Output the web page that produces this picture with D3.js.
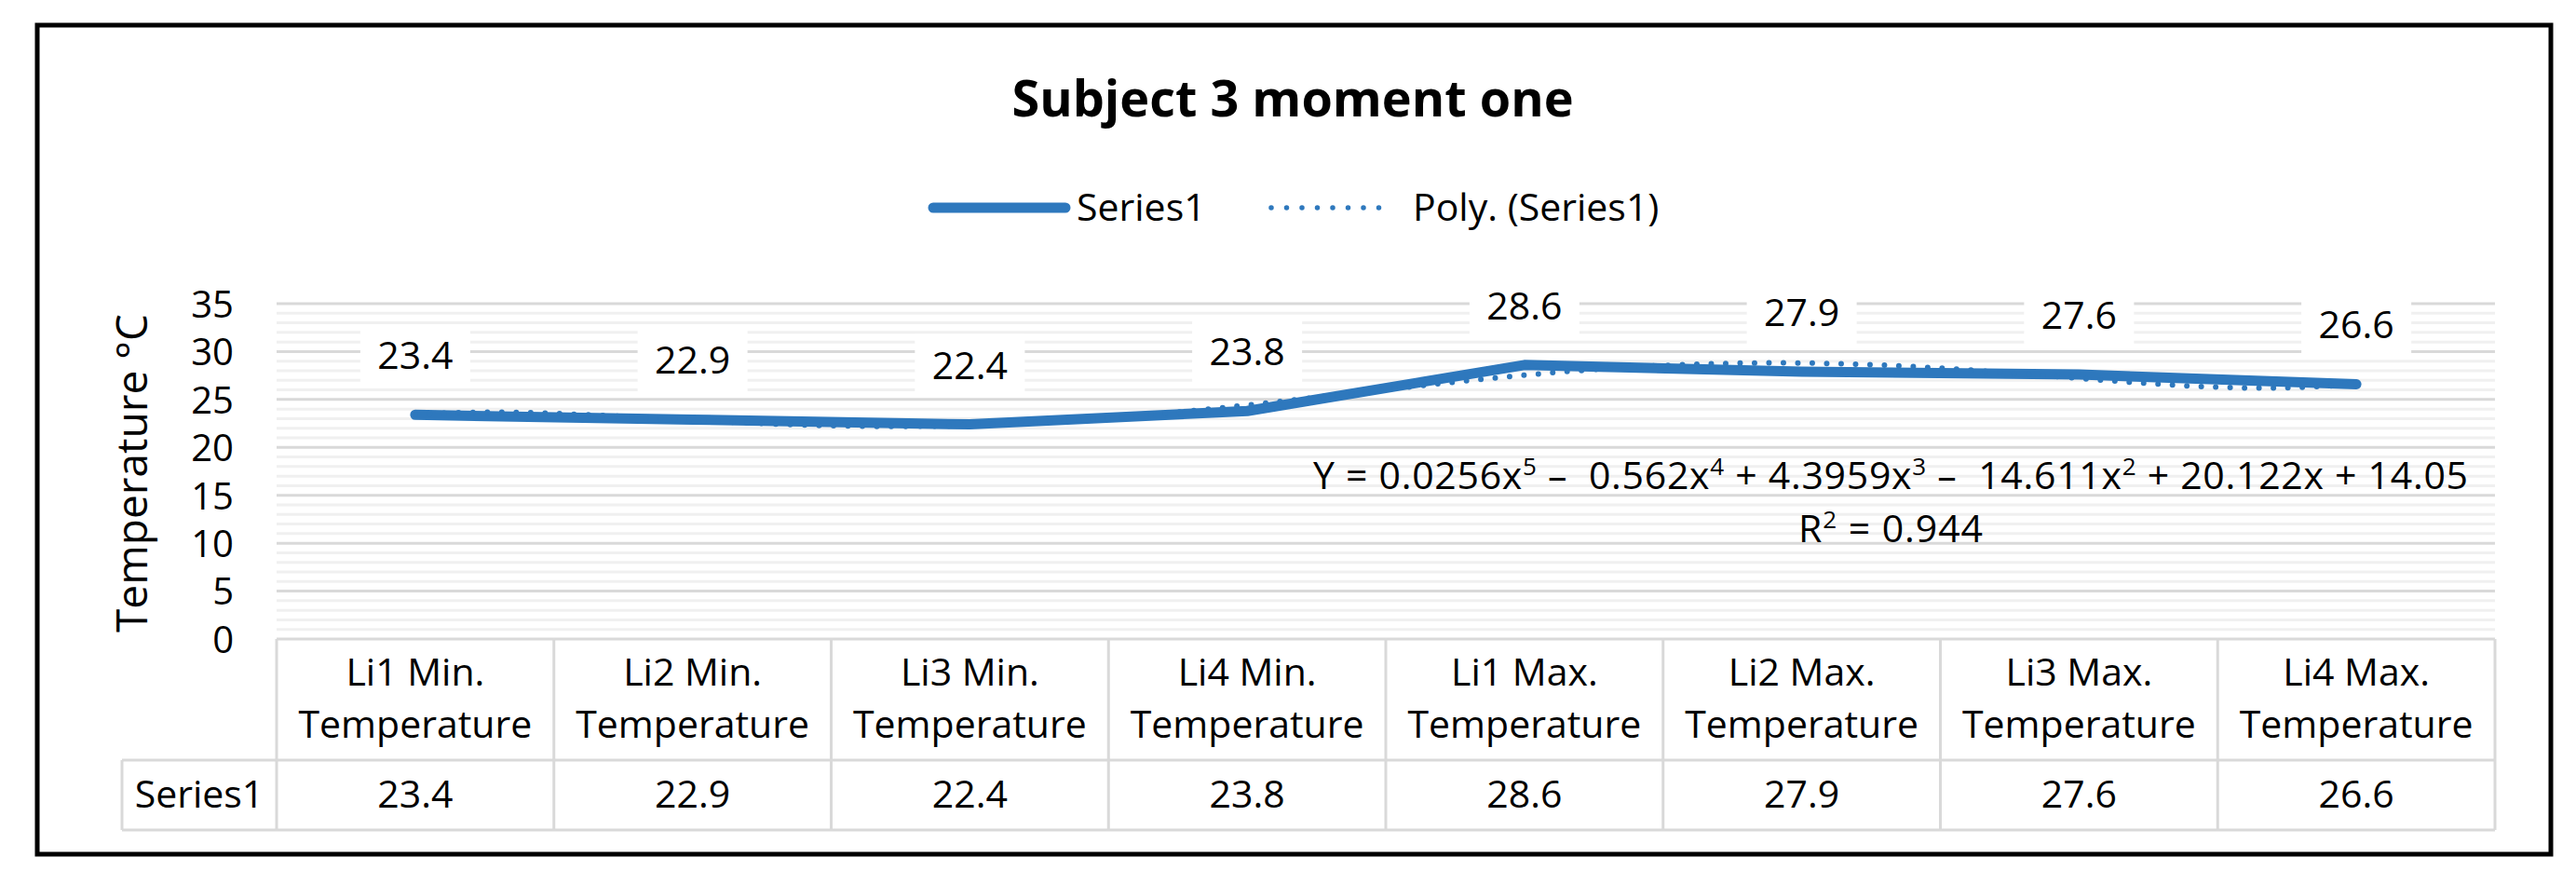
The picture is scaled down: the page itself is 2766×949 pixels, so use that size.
<!DOCTYPE html>
<html>
<head>
<meta charset="utf-8">
<script src="https://cdn.jsdelivr.net/npm/d3@7/dist/d3.min.js"></script>
<style>
  html, body { margin: 0; padding: 0; background: #fff; }
  svg { display: block; }
  text { font-family: "Open Sans", "Noto Sans", Lato, sans-serif; fill: #000; }
</style>
</head>
<body>
<svg id="chart" width="2766" height="949"></svg>
<script>
// ---------------- data ----------------
const title = "Subject 3 moment one";
const seriesName = "Series1";
const trendName = "Poly. (Series1)";
const yAxisTitle = "Temperature °C";
const categoriesLine1 = ["Li1 Min.", "Li2 Min.", "Li3 Min.", "Li4 Min.", "Li1 Max.", "Li2 Max.", "Li3 Max.", "Li4 Max."];
const categoriesLine2 = ["Temperature", "Temperature", "Temperature", "Temperature", "Temperature", "Temperature", "Temperature", "Temperature"];
const values = [23.4, 22.9, 22.4, 23.8, 28.6, 27.9, 27.6, 26.6];
const yTicks = [0, 5, 10, 15, 20, 25, 30, 35];
const trendOrder = 5;
// equation as displayed: [text, superscript] pieces
const equationParts = [["Y = 0.0256x", "5"], [" –  0.562x", "4"], [" + 4.3959x", "3"], [" –  14.611x", "2"], [" + 20.122x + 14.05", ""]];
const rSquaredParts = [["R", "2"], [" = 0.944", ""]];

// ---------------- layout ----------------
const plotL = 297, plotR = 2679, plotTop = 326, plotBottom = 686;
const tableHeaderBottom = 816, tableBottom = 891, seriesCellLeft = 131;
const blue = "#2e78bd";
const gridMajor = "#d9d9d9", gridMinor = "#f0f0f0";
const fsTick = 40, fsText = 41;

const svg = d3.select("#chart");

// outer frame
svg.append("rect").attr("x", 40).attr("y", 27).attr("width", 2699).attr("height", 890)
  .attr("fill", "#fff").attr("stroke", "#000").attr("stroke-width", 5);

// scales
const x = d3.scaleBand().domain(categoriesLine1.map((d, i) => i)).range([plotL, plotR]).paddingInner(0).paddingOuter(0);
const cx = i => x(i) + x.bandwidth() / 2;
const y = d3.scaleLinear().domain([0, 35]).range([plotBottom, plotTop]);

// minor gridlines (every 1 unit)
const minorTicks = d3.range(0, 35, 1).filter(v => v % 5 !== 0);
svg.append("g").selectAll("line").data(minorTicks).join("line")
  .attr("x1", plotL).attr("x2", plotR)
  .attr("y1", d => y(d)).attr("y2", d => y(d))
  .attr("stroke", gridMinor).attr("stroke-width", 3);
// major gridlines
svg.append("g").selectAll("line").data(yTicks.filter(v => v > 0)).join("line")
  .attr("x1", plotL).attr("x2", plotR)
  .attr("y1", d => y(d)).attr("y2", d => y(d))
  .attr("stroke", gridMajor).attr("stroke-width", 3);

// y axis tick labels via d3.axisLeft
const yAxis = d3.axisLeft(y).tickValues(yTicks).tickSize(0).tickPadding(0);
const gy = svg.append("g").attr("transform", "translate(251,0)").call(yAxis);
gy.select(".domain").remove();
gy.selectAll("text").attr("font-size", fsTick).attr("dy", "0.36em")
  .style("font-family", "'Open Sans', 'Noto Sans', Lato, sans-serif").attr("fill", "#000");

// y axis title
svg.append("text").attr("transform", "translate(158,508) rotate(-90)")
  .attr("text-anchor", "middle").attr("font-size", 46).text(yAxisTitle);

// title
svg.append("text").attr("x", 1388).attr("y", 125).attr("text-anchor", "middle")
  .attr("font-size", 54).attr("font-weight", "bold").text(title);

// legend
const legY = 223;
svg.append("line").attr("x1", 1002).attr("x2", 1144).attr("y1", legY).attr("y2", legY)
  .attr("stroke", blue).attr("stroke-width", 11).attr("stroke-linecap", "round");
svg.append("text").attr("x", 1156).attr("y", 237).attr("font-size", fsText).text(seriesName);
svg.append("line").attr("x1", 1365).attr("x2", 1497).attr("y1", legY).attr("y2", legY)
  .attr("stroke", blue).attr("stroke-width", 5.5).attr("stroke-linecap", "round")
  .attr("stroke-dasharray", "0 16.5");
svg.append("text").attr("x", 1517).attr("y", 237).attr("font-size", fsText).text(trendName);

// ---- polynomial least-squares trendline (as the spreadsheet computes it) ----
function polyFit(xs, ys, order) {
  const n = order + 1;
  const M = Array.from({length: n}, () => new Array(n + 1).fill(0));
  for (let r = 0; r < n; r++) {
    for (let c = 0; c < n; c++) M[r][c] = d3.sum(xs, xv => Math.pow(xv, r + c));
    M[r][n] = d3.sum(xs.map((xv, k) => Math.pow(xv, r) * ys[k]));
  }
  for (let col = 0; col < n; col++) {
    let piv = col;
    for (let r = col + 1; r < n; r++) if (Math.abs(M[r][col]) > Math.abs(M[piv][col])) piv = r;
    [M[col], M[piv]] = [M[piv], M[col]];
    for (let r = 0; r < n; r++) {
      if (r === col) continue;
      const f = M[r][col] / M[col][col];
      for (let c = col; c <= n; c++) M[r][c] -= f * M[col][c];
    }
  }
  return M.map((row, i) => row[n] / row[i]);
}
const xs = values.map((v, i) => i + 1);
const coef = polyFit(xs, values, trendOrder);
const poly = t => coef.reduce((s, c, k) => s + c * Math.pow(t, k), 0);
const xt = d3.scaleLinear().domain([1, values.length]).range([cx(0), cx(values.length - 1)]);
const trendPts = d3.range(1, values.length + 0.001, 0.02).map(t => [t, poly(t)]);

// series line
svg.append("path").datum(values)
  .attr("fill", "none").attr("stroke", blue).attr("stroke-width", 11)
  .attr("stroke-linecap", "round").attr("stroke-linejoin", "round")
  .attr("d", d3.line().x((d, i) => cx(i)).y(d => y(d)));

// trendline (dotted)
svg.append("path").datum(trendPts)
  .attr("fill", "none").attr("stroke", blue).attr("stroke-width", 6)
  .attr("stroke-linecap", "round").attr("stroke-dasharray", "0 15.5")
  .attr("d", d3.line().x(d => xt(d[0])).y(d => y(d[1])));

// data labels with white boxes
const lbl = svg.append("g");
lbl.selectAll("rect").data(values).join("rect")
  .attr("x", (d, i) => cx(i) - 59).attr("y", d => y(d) - 63 - 34)
  .attr("width", 118).attr("height", 68).attr("fill", "#fff");
lbl.selectAll("text").data(values).join("text")
  .attr("x", (d, i) => cx(i)).attr("y", d => y(d) - 49)
  .attr("text-anchor", "middle").attr("font-size", fsText)
  .text(d => d.toFixed(1));

// trendline equation and R²
function richText(parts, xPos, yPos, len) {
  const t = svg.append("text").attr("x", xPos).attr("y", yPos).attr("text-anchor", "middle")
    .attr("font-size", fsText).style("white-space", "pre");
  parts.forEach(p => {
    t.append("tspan").text(p[0]);
    if (p[1]) t.append("tspan").attr("font-size", 26).attr("baseline-shift", "58%").text(p[1]);
  });
  if (len) t.attr("textLength", len).attr("lengthAdjust", "spacing");
  return t;
}
richText(equationParts, 2030, 525, 1240);
richText(rSquaredParts, 2030, 582, 198);

// data table
const tbl = svg.append("g").attr("stroke", gridMajor).attr("stroke-width", 3).attr("fill", "none");
tbl.append("line").attr("x1", plotL).attr("x2", plotR).attr("y1", plotBottom).attr("y2", plotBottom);
tbl.append("line").attr("x1", seriesCellLeft).attr("x2", plotR).attr("y1", tableHeaderBottom).attr("y2", tableHeaderBottom);
tbl.append("line").attr("x1", seriesCellLeft).attr("x2", plotR).attr("y1", tableBottom).attr("y2", tableBottom);
const vx = categoriesLine1.map((d, i) => x(i)).concat([plotR]);
tbl.selectAll("line.v").data(vx).join("line").attr("class", "v")
  .attr("x1", d => d).attr("x2", d => d).attr("y1", plotBottom).attr("y2", tableBottom);
tbl.append("line").attr("x1", seriesCellLeft).attr("x2", seriesCellLeft).attr("y1", tableHeaderBottom).attr("y2", tableBottom);

// header texts
const hdr = svg.append("g").attr("text-anchor", "middle").attr("font-size", fsText);
hdr.selectAll("text.l1").data(categoriesLine1).join("text").attr("class", "l1")
  .attr("x", (d, i) => cx(i)).attr("y", 736).text(d => d);
hdr.selectAll("text.l2").data(categoriesLine2).join("text").attr("class", "l2")
  .attr("x", (d, i) => cx(i)).attr("y", 792).text(d => d);
hdr.selectAll("text.v").data(values).join("text").attr("class", "v")
  .attr("x", (d, i) => cx(i)).attr("y", 867).text(d => d.toFixed(1));
svg.append("text").attr("x", (seriesCellLeft + plotL) / 2).attr("y", 867)
  .attr("text-anchor", "middle").attr("font-size", fsText).text(seriesName);
</script>
</body>
</html>
